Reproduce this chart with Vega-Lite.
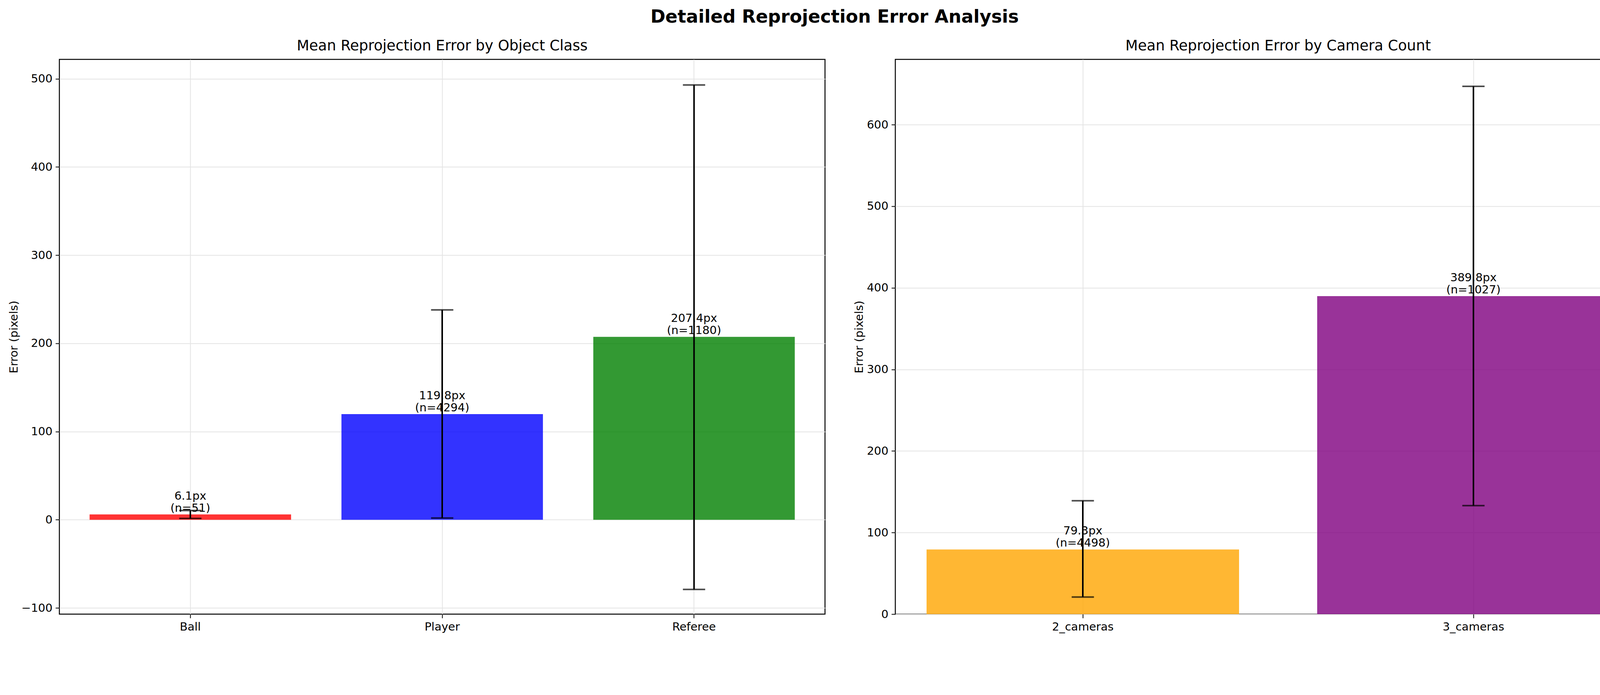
{
  "$schema": "https://vega.github.io/schema/vega-lite/v6.json",
  "background": "white",
  "padding": {"left": 20, "top": 20, "right": 20, "bottom": 20},
  "title": {"text": "Detailed Reprojection Error Analysis", "fontSize": 46, "fontWeight": "bold", "font": "DejaVu Sans", "offset": 30, "anchor": "middle"},
  "config": {
    "font": "DejaVu Sans",
    "view": {"stroke": "black", "strokeWidth": 2.5},
    "axis": {"labelFontSize": 29, "titleFontSize": 29, "labelColor": "black", "titleColor": "black", "titleFontWeight": "normal", "domain": false, "tickColor": "black", "tickSize": 10, "tickWidth": 2, "gridColor": "#e4e4e4", "gridWidth": 2, "labelPadding": 8},
    "title": {"fontSize": 37, "fontWeight": "normal", "offset": 15}
  },
  "spacing": 70,
  "hconcat": [
    {
      "width": 1960,
      "height": 1420,
      "title": "Mean Reprojection Error by Object Class",
      "data": {"values": [
        {"cls": "Ball", "mean": 6.1, "lo": 1.5, "hi": 10.5, "label": "6.1px\n(n=51)", "color": "red"},
        {"cls": "Player", "mean": 119.8, "lo": 2, "hi": 238, "label": "119.8px\n(n=4294)", "color": "blue"},
        {"cls": "Referee", "mean": 207.4, "lo": -79, "hi": 493, "label": "207.4px\n(n=1180)", "color": "green"}
      ]},
      "encoding": {
        "x": {"field": "cls", "type": "nominal", "title": null, "sort": null, "scale": {"paddingInner": 0.2, "paddingOuter": 0.12}, "axis": {"labelAngle": 0, "grid": true, "bandPosition": 0.5}}
      },
      "layer": [
        {"mark": {"type": "bar", "opacity": 0.8}, "encoding": {
          "y": {"field": "mean", "type": "quantitative", "title": "Error (pixels)", "scale": {"domain": [-107, 522], "nice": false}, "axis": {"values": [-100, 0, 100, 200, 300, 400, 500], "grid": true}},
          "color": {"field": "color", "type": "nominal", "scale": null}}},
        {"mark": {"type": "rule", "strokeWidth": 4, "color": "black"}, "encoding": {"y": {"field": "lo", "type": "quantitative"}, "y2": {"field": "hi"}}},
        {"mark": {"type": "tick", "thickness": 4, "size": 57, "color": "black", "orient": "horizontal"}, "encoding": {"y": {"field": "lo", "type": "quantitative"}}},
        {"mark": {"type": "tick", "thickness": 4, "size": 57, "color": "black", "orient": "horizontal"}, "encoding": {"y": {"field": "hi", "type": "quantitative"}}},
        {"mark": {"type": "text", "fontSize": 29, "baseline": "bottom", "lineBreak": "\n", "dy": -32}, "encoding": {"y": {"field": "mean", "type": "quantitative"}, "text": {"field": "label"}}}
      ]
    },
    {
      "width": 1960,
      "height": 1420,
      "title": "Mean Reprojection Error by Camera Count",
      "data": {"values": [
        {"cls": "2_cameras", "mean": 79.3, "lo": 21, "hi": 139, "label": "79.3px\n(n=4498)", "color": "orange"},
        {"cls": "3_cameras", "mean": 389.8, "lo": 133, "hi": 647, "label": "389.8px\n(n=1027)", "color": "purple"}
      ]},
      "encoding": {
        "x": {"field": "cls", "type": "nominal", "title": null, "sort": null, "scale": {"paddingInner": 0.2, "paddingOuter": 0.08}, "axis": {"labelAngle": 0, "grid": true, "bandPosition": 0.5}}
      },
      "layer": [
        {"mark": {"type": "bar", "opacity": 0.8}, "encoding": {
          "y": {"field": "mean", "type": "quantitative", "title": "Error (pixels)", "scale": {"domain": [0, 680], "nice": false}, "axis": {"values": [0, 100, 200, 300, 400, 500, 600], "grid": true}},
          "color": {"field": "color", "type": "nominal", "scale": null}}},
        {"mark": {"type": "rule", "strokeWidth": 4, "color": "black"}, "encoding": {"y": {"field": "lo", "type": "quantitative"}, "y2": {"field": "hi"}}},
        {"mark": {"type": "tick", "thickness": 4, "size": 57, "color": "black", "orient": "horizontal"}, "encoding": {"y": {"field": "lo", "type": "quantitative"}}},
        {"mark": {"type": "tick", "thickness": 4, "size": 57, "color": "black", "orient": "horizontal"}, "encoding": {"y": {"field": "hi", "type": "quantitative"}}},
        {"mark": {"type": "text", "fontSize": 29, "baseline": "bottom", "lineBreak": "\n", "dy": -32}, "encoding": {"y": {"field": "mean", "type": "quantitative"}, "text": {"field": "label"}}}
      ]
    }
  ]
}
